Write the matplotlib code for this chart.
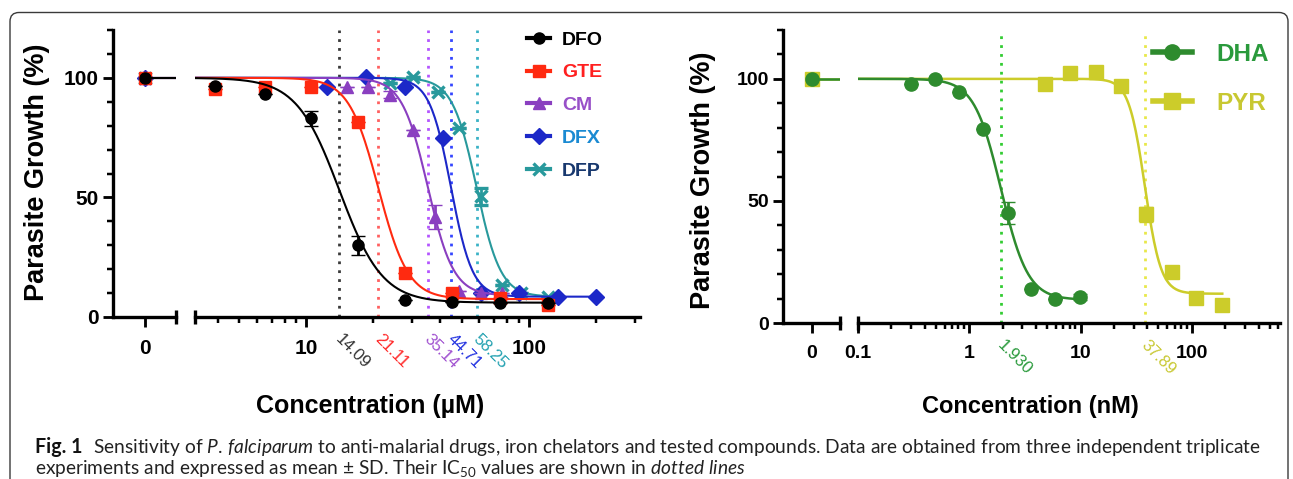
import matplotlib
matplotlib.use('Agg')
import matplotlib.pyplot as plt
import matplotlib.transforms as mtransforms
import numpy as np
from matplotlib.lines import Line2D
from matplotlib.patches import FancyBboxPatch
from matplotlib.ticker import MultipleLocator, LogLocator, NullFormatter, FuncFormatter

plt.rcParams['font.family'] = ['Liberation Sans', 'DejaVu Sans']
plt.rcParams['font.weight'] = 'bold'
plt.rcParams['mathtext.fontset'] = 'custom'
plt.rcParams['mathtext.rm'] = 'Lato:weight=normal'
plt.rcParams['mathtext.it'] = 'Lato:style=italic:weight=normal'
plt.rcParams['mathtext.bf'] = 'Lato:weight=bold'

W, H = 1293, 479

# ---------------- left panel: chelators / compounds (uM) ----------------
chel_names = ['DFO', 'GTE', 'CM', 'DFX', 'DFP']
chel_colors = ['#000000', '#ff2a10', '#8a3fc0', '#1c28c8', '#28999c']
chel_text_colors = ['#000000', '#ff2020', '#9850c8', '#1a8ad2', '#18386e']
chel_vcolors = ['#3a3a3a', '#ff6060', '#b455ff', '#3446ff', '#3ab2c6']
chel_lcolors = ['#333333', '#ff2a2a', '#a050d0', '#2030e0', '#20a0b0']
chel_markers = ['o', 's', '^', 'D', 'x']
chel_ic50 = [14.09, 21.11, 35.14, 44.71, 58.25]
chel_ic50_txt = ['14.09', '21.11', '35.14', '44.71', '58.25']
chel_zero = [100, 100, 100, 100, 100]

dfo_x = [3.9, 6.5, 10.5, 17.0, 27.8, 45.3, 74.6, 122]
dfo_y = [96.7, 93.2, 83.0, 30.0, 7.0, 6.3, 5.9, 5.9]
dfo_e = [0, 0, 3.0, 4.0, 0, 0, 0, 0]
gte_x = [3.9, 6.5, 10.5, 17.0, 27.8, 45.3, 74.6, 122]
gte_y = [95.5, 96.0, 96.0, 81.5, 18.4, 10.0, 8.0, 5.0]
gte_e = [0, 0, 0, 0, 0, 0, 0, 0]
cm_x = [15.2, 18.9, 23.8, 30.2, 37.9, 48.4, 60.7, 76.0]
cm_y = [96.0, 96.0, 93.0, 78.0, 42.0, 11.0, 10.0, 10.0]
cm_e = [0, 0, 1.5, 0, 5.0, 0, 0, 0]
dfx_x = [12.4, 18.6, 27.8, 41.2, 60.7, 90.0, 135, 200]
dfx_y = [96.0, 100.4, 96.0, 75.0, 10.0, 10.0, 8.4, 8.4]
dfx_e = [0, 0, 0, 0, 0, 0, 0, 0]
dfp_x = [23.8, 30.2, 39.2, 48.4, 60.7, 76.0, 92.0, 122]
dfp_y = [98.0, 100.4, 94.0, 79.0, 50.5, 13.4, 10.0, 8.4]
dfp_e = [0, 0, 0, 0, 3.5, 0, 0, 0]

chel_x = [dfo_x, gte_x, cm_x, dfx_x, dfp_x]
chel_y = [dfo_y, gte_y, cm_y, dfx_y, dfp_y]
chel_e = [dfo_e, gte_e, cm_e, dfx_e, dfp_e]
# fitted sigmoid parameters
chel_top = [100, 100, 100, 100, 100]
chel_bottom = [6.0, 7.5, 9.0, 8.5, 8.5]
chel_hill = [4.5, 6.5, 7.5, 9.0, 8.0]

# ---------------- right panel: anti-malarials (nM) ----------------
drug_names = ['DHA', 'PYR']
drug_colors = ['#2e8b2e', '#cccc2a']
drug_text_colors = ['#2a9a3c', '#c8c832']
drug_vcolors = ['#33cc33', '#e8e84a']
drug_lcolors = ['#2a9a3c', '#c8c832']
drug_markers = ['o', 's']
drug_ic50 = [1.930, 37.89]
drug_ic50_txt = ['1.930', '37.89']
drug_zero = [100, 100]

dha_x = [0.30, 0.49, 0.81, 1.32, 2.21, 3.6, 5.95, 9.8]
dha_y = [97.9, 100.0, 94.8, 79.4, 45.0, 13.9, 9.8, 10.8]
dha_e = [0, 0, 0, 0, 4.5, 0, 0, 1.2]
pyr_x = [4.8, 8.1, 13.8, 23.2, 38.8, 67, 110, 188]
pyr_y = [98.0, 102.5, 102.8, 97.0, 44.5, 21.0, 10.4, 7.4]
pyr_e = [0, 0, 1.2, 0, 3.0, 0, 0, 0]

drug_x = [dha_x, pyr_x]
drug_y = [dha_y, pyr_y]
drug_e = [dha_e, pyr_e]
drug_top = [100, 100]
drug_bottom = [9.5, 12.0]
drug_hill = [3.6, 6.0]


def hill(x, top, bottom, ic50, slope):
    return bottom + (top - bottom) / (1 + (x / ic50) ** slope)


def px_rect(x0, y0, x1, y1):
    return [x0 / W, 1 - y1 / H, (x1 - x0) / W, (y1 - y0) / H]


def style_pair(ax0, ax, xlim, lw, fs):
    for a in (ax0, ax):
        a.set_facecolor('none')
        a.spines['top'].set_visible(False)
        a.spines['right'].set_visible(False)
        a.spines['bottom'].set_linewidth(lw)
        a.tick_params(which='major', direction='out', length=7, width=lw * 0.85,
                      labelsize=fs, pad=9)
        a.tick_params(which='minor', direction='out', length=4, width=lw * 0.75)
        a.tick_params(axis='y', which='major', pad=3)
    ax0.spines['left'].set_linewidth(lw)
    ax0.set_ylim(0, 120)
    ax0.set_yticks([0, 50, 100])
    ax0.yaxis.set_minor_locator(MultipleLocator(10))
    ax0.set_xlim(-1, 1)
    ax0.set_xticks([0])
    ax0.set_xticklabels(['0'])
    ax.spines['left'].set_visible(False)
    ax.tick_params(axis='y', which='both', left=False, labelleft=False)
    ax.set_xscale('log')
    ax.set_xlim(*xlim)
    ax.xaxis.set_major_locator(LogLocator(base=10))
    ax.xaxis.set_minor_locator(LogLocator(base=10, subs=np.arange(2, 10)))
    ax.xaxis.set_major_formatter(FuncFormatter(lambda v, p: '%g' % v))
    ax.xaxis.set_minor_formatter(NullFormatter())
    # axis-break bars
    ax0.plot([1, 1], [-0.024, 0.024], transform=ax0.transAxes, color='k',
             lw=lw, clip_on=False, solid_capstyle='butt')
    ax.plot([0, 0], [-0.024, 0.024], transform=ax.transAxes, color='k',
            lw=lw, clip_on=False, solid_capstyle='butt')


def draw_panel(ax0, ax, xs, ys, es, zeros, tops, bottoms, hills, ic50s, ic50_txt,
               colors, vcolors, lcolors, markers, ms, lw, label_fs):
    trans = mtransforms.blended_transform_factory(ax.transData, ax.transAxes)
    off = mtransforms.ScaledTranslation(4 / 100, 0, ax.figure.dpi_scale_trans)
    n = len(xs)
    for i in range(n):
        ax.plot([ic50s[i], ic50s[i]], [0, 120], ls=(0, (1, 2.2)), lw=2,
                color=vcolors[i], zorder=1, clip_on=False)
        ax.text(ic50s[i], -0.05, ic50_txt[i], transform=trans + off, rotation=-45,
                rotation_mode='anchor', ha='left', va='top', fontsize=label_fs,
                fontweight='normal', color=lcolors[i])
    for i in reversed(range(n)):
        z = 3 + (n - i)
        c = colors[i]
        mew = 2.4 if markers[i] == 'x' else 1
        xfit = np.logspace(np.log10(ax.get_xlim()[0]), np.log10(max(xs[i])), 300)
        ax.plot(xfit, hill(xfit, tops[i], bottoms[i], ic50s[i], hills[i]),
                color=c, lw=lw, zorder=z)
        ax.errorbar(xs[i], ys[i], yerr=es[i], fmt=markers[i], color=c, ms=ms,
                    mew=mew, capsize=5, capthick=2, elinewidth=2,
                    zorder=z, clip_on=False)
        ax0.plot([0, 1], [tops[i], tops[i]], color=c, lw=lw, zorder=z)
        ax0.plot([0], [zeros[i]], marker=markers[i], color=c, ms=ms, ls='none',
                 zorder=z, mew=mew)


fig = plt.figure(figsize=(W / 100, H / 100), dpi=100)

axL0 = fig.add_axes(px_rect(113, 30, 176, 317))
axL = fig.add_axes(px_rect(195, 30, 640, 317), sharey=axL0)
axR0 = fig.add_axes(px_rect(783, 30, 840, 323))
axR = fig.add_axes(px_rect(858, 30, 1280, 323), sharey=axR0)

style_pair(axL0, axL, (10 ** 0.5, 10 ** 2.5), 2.4, 15)
style_pair(axR0, axR, (0.1, 10 ** 2.793), 2.4, 14)

draw_panel(axL0, axL, chel_x, chel_y, chel_e, chel_zero, chel_top, chel_bottom,
           chel_hill, chel_ic50, chel_ic50_txt, chel_colors, chel_vcolors,
           chel_lcolors, chel_markers, 8, 1.5, 12)
draw_panel(axR0, axR, drug_x, drug_y, drug_e, drug_zero, drug_top, drug_bottom,
           drug_hill, drug_ic50, drug_ic50_txt, drug_colors, drug_vcolors,
           drug_lcolors, drug_markers, 9.5, 1.8, 12)

# axis titles
fig.text(37 / W, 1 - 172 / H, 'Parasite Growth (%)', rotation=90, ha='center',
         va='center', fontsize=19.5)
fig.text(703 / W, 1 - 180 / H, 'Parasite Growth (%)', rotation=90, ha='center',
         va='center', fontsize=19.5)
fig.text(370 / W, 1 - 406 / H, 'Concentration (\u00b5M)', ha='center', va='center',
         fontsize=18)
fig.text(1030 / W, 1 - 406 / H, 'Concentration (nM)', ha='center', va='center',
         fontsize=17)

# legends
hL = [Line2D([], [], color=c, marker=m, ms=8, lw=3, mew=2.4 if m == 'x' else 1)
      for c, m in zip(chel_colors, chel_markers)]
legL = fig.legend(hL, chel_names, loc='upper left', bbox_to_anchor=(527 / W, 1 - 31 / H),
                  frameon=False, fontsize=14, handlelength=1.2, handletextpad=0.6,
                  labelspacing=0.78, borderpad=0, borderaxespad=0)
for t, c in zip(legL.get_texts(), chel_text_colors):
    t.set_color(c)

hR = [Line2D([], [], color=c, marker=m, ms=11, lw=4)
      for c, m in zip(drug_colors, drug_markers)]
legR = fig.legend(hR, drug_names, loc='upper left', bbox_to_anchor=(1153 / W, 1 - 43 / H),
                  frameon=False, fontsize=17.5, handlelength=1.6, handletextpad=1.0,
                  labelspacing=1.05, borderpad=0, borderaxespad=0)
for t, c in zip(legR.get_texts(), drug_text_colors):
    t.set_color(c)

# frame
frame = FancyBboxPatch((0.10, -0.5), 12.78, 4.665 + 0.5,
                       boxstyle='round,pad=0,rounding_size=0.09',
                       transform=fig.dpi_scale_trans, fill=False,
                       edgecolor='#3a3a3a', lw=1.0)
fig.add_artist(frame)

# caption
cap_head = 'Fig. 1'
cap1 = (r'Sensitivity of $\mathit{P.}\,\mathit{falciparum}$ to anti-malarial drugs, '
        r'iron chelators and tested compounds. Data are obtained from three independent triplicate')
cap2 = (r'experiments and expressed as mean $\pm$ SD. Their IC$_{\mathrm{50}}$ values are '
        r'shown in $\mathit{dotted\ lines}$')
r = fig.canvas.get_renderer()
cap_x0, cap_x1 = 35, 1257


def caption_line1(fs):
    th = fig.text(cap_x0 / W, 1 - 453 / H, cap_head, ha='left', va='baseline',
                  fontsize=fs * 1.03, family='Lato', fontweight='bold', color='#111111')
    wh = th.get_window_extent(r).width
    tb = fig.text((cap_x0 + wh + fs * 0.75) / W, 1 - 453 / H, cap1, ha='left',
                  va='baseline', fontsize=fs, family='Lato', fontweight='normal',
                  color='#222222')
    return th, tb


th, tb = caption_line1(12)
w_all = tb.get_window_extent(r).x1 - cap_x0
fs = 12 * (cap_x1 - cap_x0) / w_all
th.remove()
tb.remove()
caption_line1(fs)
fig.text(cap_x0 / W, 1 - 474 / H, cap2, ha='left', va='baseline', fontsize=fs,
         family='Lato', fontweight='normal', color='#222222')

fig.savefig('out.png', dpi=100)
